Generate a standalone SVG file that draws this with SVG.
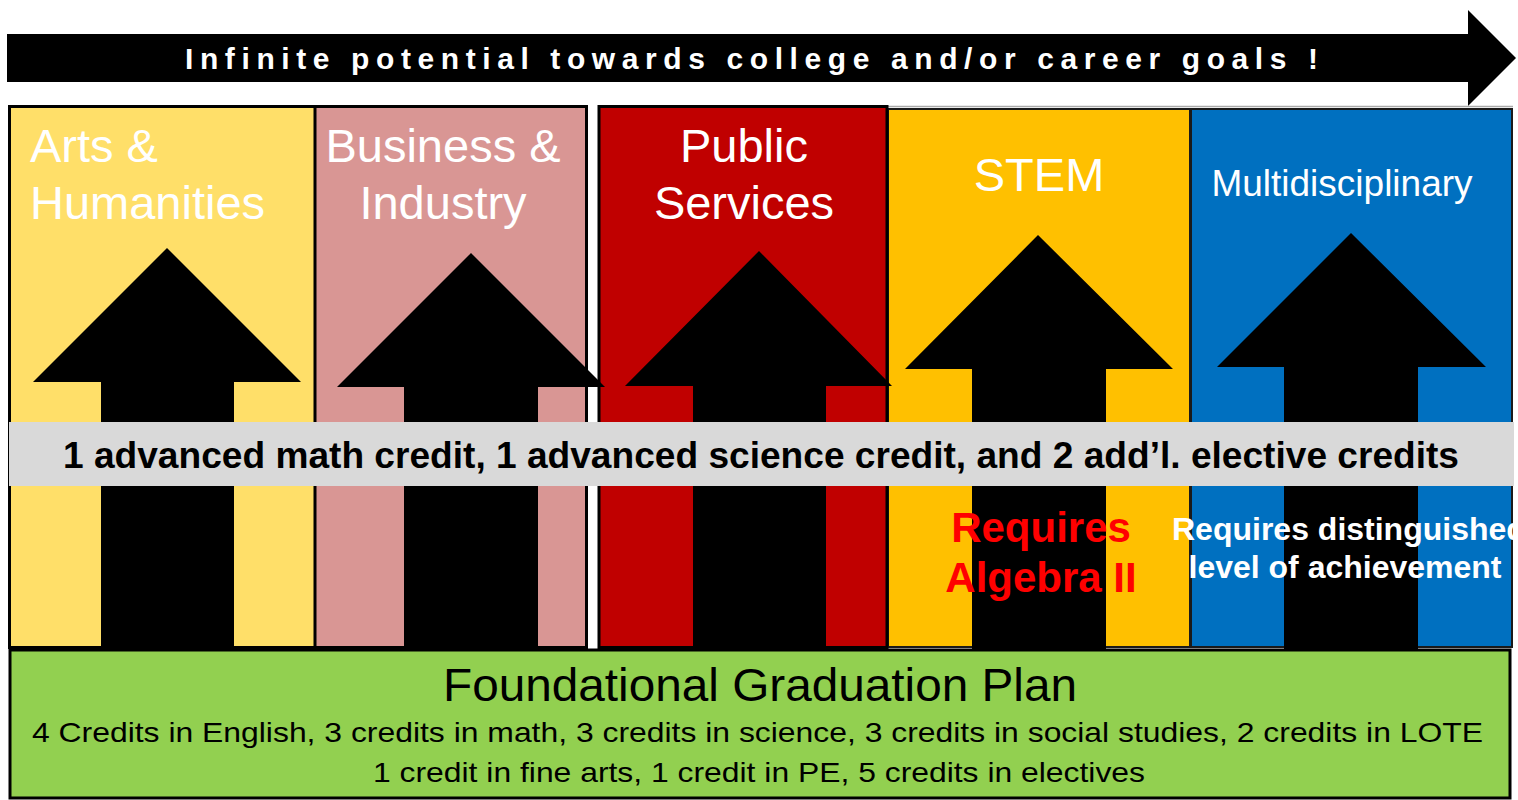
<svg xmlns="http://www.w3.org/2000/svg" width="1518" height="800" viewBox="0 0 1518 800">
  <style>
    .hdr { font-family: "Liberation Sans", Arial, sans-serif; font-size: 47px; fill: #FFFFFF; }
    .hdr-c { text-anchor: middle; }
    .upArrow { fill: #000000; }
    .col { stroke: #000000; stroke-width: 3; }
    .colThin { stroke: #1a1a1a; stroke-width: 2; }
    .bold { font-family: "Liberation Sans", Arial, sans-serif; font-weight: bold; }
    .reg { font-family: "Liberation Sans", Arial, sans-serif; }
  </style>
  <rect x="0" y="0" width="1518" height="800" fill="#FFFFFF"/>

  <!-- top banner arrow -->
  <g id="banner">
    <polygon points="7,34 1468,34 1468,10 1516,58 1468,106 1468,82 7,82" fill="#000000"/>
    <text x="185" y="69" class="bold" font-size="30" fill="#FFFFFF" textLength="1133" lengthAdjust="spacing">Infinite potential towards college and/or career goals !</text>
  </g>

  <!-- pathway columns -->
  <g id="arts-humanities">
    <rect x="11" y="108" width="303" height="538" fill="#FFDF69"/>
  </g>
  <g id="business-industry">
    <rect x="316" y="108" width="269" height="538" fill="#D99694"/>
    <line x1="315" y1="107" x2="315" y2="647" stroke="#000000" stroke-width="3"/>
  </g>
  <rect x="9.5" y="106.5" width="577" height="541" fill="none" class="col"/>
  <line x1="888" y1="106.5" x2="1513" y2="106.5" stroke="#AAAAAA" stroke-width="1.5"/>
  <g id="stem">
    <rect x="888" y="109" width="302" height="538" fill="#FFC000" class="colThin"/>
  </g>
  <g id="multidisciplinary">
    <rect x="1191" y="109" width="321" height="538" fill="#0070C0" class="colThin"/>
  </g>
  <g id="public-services">
    <rect x="599" y="106.5" width="288" height="541" fill="#C00000" class="col"/>
  </g>

  <!-- upward arrows -->
  <g id="connectors">
    <polygon class="upArrow" points="167,248 301,382 234,382 234,649 101,649 101,382 33,382"/>
    <polygon class="upArrow" points="471,253 605,387 538,387 538,649 404,649 404,387 337,387"/>
    <polygon class="upArrow" points="759,251 892,386 826,386 826,649 693,649 693,386 625,386"/>
    <polygon class="upArrow" points="1038,235 1173,369 1106,369 1106,649 972,649 972,369 905,369"/>
    <polygon class="upArrow" points="1351,233 1486,367 1418,367 1418,649 1284,649 1284,367 1217,367"/>
  </g>

  <!-- column headers -->
  <g id="arts-label">
    <text class="hdr" x="30" y="162">Arts &amp;</text>
    <text class="hdr" x="30" y="219">Humanities</text>
  </g>
  <g id="business-label">
    <text class="hdr hdr-c" x="443" y="162">Business &amp;</text>
    <text class="hdr hdr-c" x="443" y="219">Industry</text>
  </g>
  <g id="public-label">
    <text class="hdr hdr-c" x="744" y="162">Public</text>
    <text class="hdr hdr-c" x="744" y="219">Services</text>
  </g>
  <g id="stem-label">
    <text class="hdr hdr-c" x="1039" y="191">STEM</text>
  </g>
  <g id="multi-label">
    <text class="reg" x="1342" y="196" font-size="37" fill="#FFFFFF" text-anchor="middle">Multidisciplinary</text>
  </g>

  <!-- endorsement band -->
  <g id="endorsement-band">
    <rect x="9" y="422" width="1505" height="64" fill="#D9D9D9"/>
    <text x="63" y="468" class="bold" font-size="36" fill="#000000" textLength="1396" lengthAdjust="spacingAndGlyphs">1 advanced math credit, 1 advanced science credit, and 2 add’l. elective credits</text>
  </g>

  <g id="stem-note">
    <text x="1041" y="542" class="bold" font-size="42" fill="#FF0000" text-anchor="middle">Requires</text>
    <text x="1041" y="592" class="bold" font-size="42" fill="#FF0000" text-anchor="middle">Algebra II</text>
  </g>
  <g id="multi-note">
    <text x="1172" y="540" class="bold" font-size="32" fill="#FFFFFF">Requires distinguished</text>
    <text x="1345" y="578" class="bold" font-size="32" fill="#FFFFFF" text-anchor="middle">level of achievement</text>
  </g>

  <!-- foundation -->
  <g id="foundational-plan">
    <rect x="10" y="650" width="1500" height="148" fill="#92D050" stroke="#000000" stroke-width="3"/>
    <text x="443" y="701" class="reg" font-size="47" fill="#000000" textLength="634" lengthAdjust="spacingAndGlyphs">Foundational Graduation Plan</text>
    <text x="32" y="742" class="reg" font-size="28" fill="#000000" textLength="1451" lengthAdjust="spacingAndGlyphs">4 Credits in English, 3 credits in math, 3 credits in science, 3 credits in social studies, 2 credits in LOTE</text>
    <text x="373" y="782" class="reg" font-size="28" fill="#000000" textLength="772" lengthAdjust="spacingAndGlyphs">1 credit in fine arts, 1 credit in PE, 5 credits in electives</text>
  </g>
</svg>
